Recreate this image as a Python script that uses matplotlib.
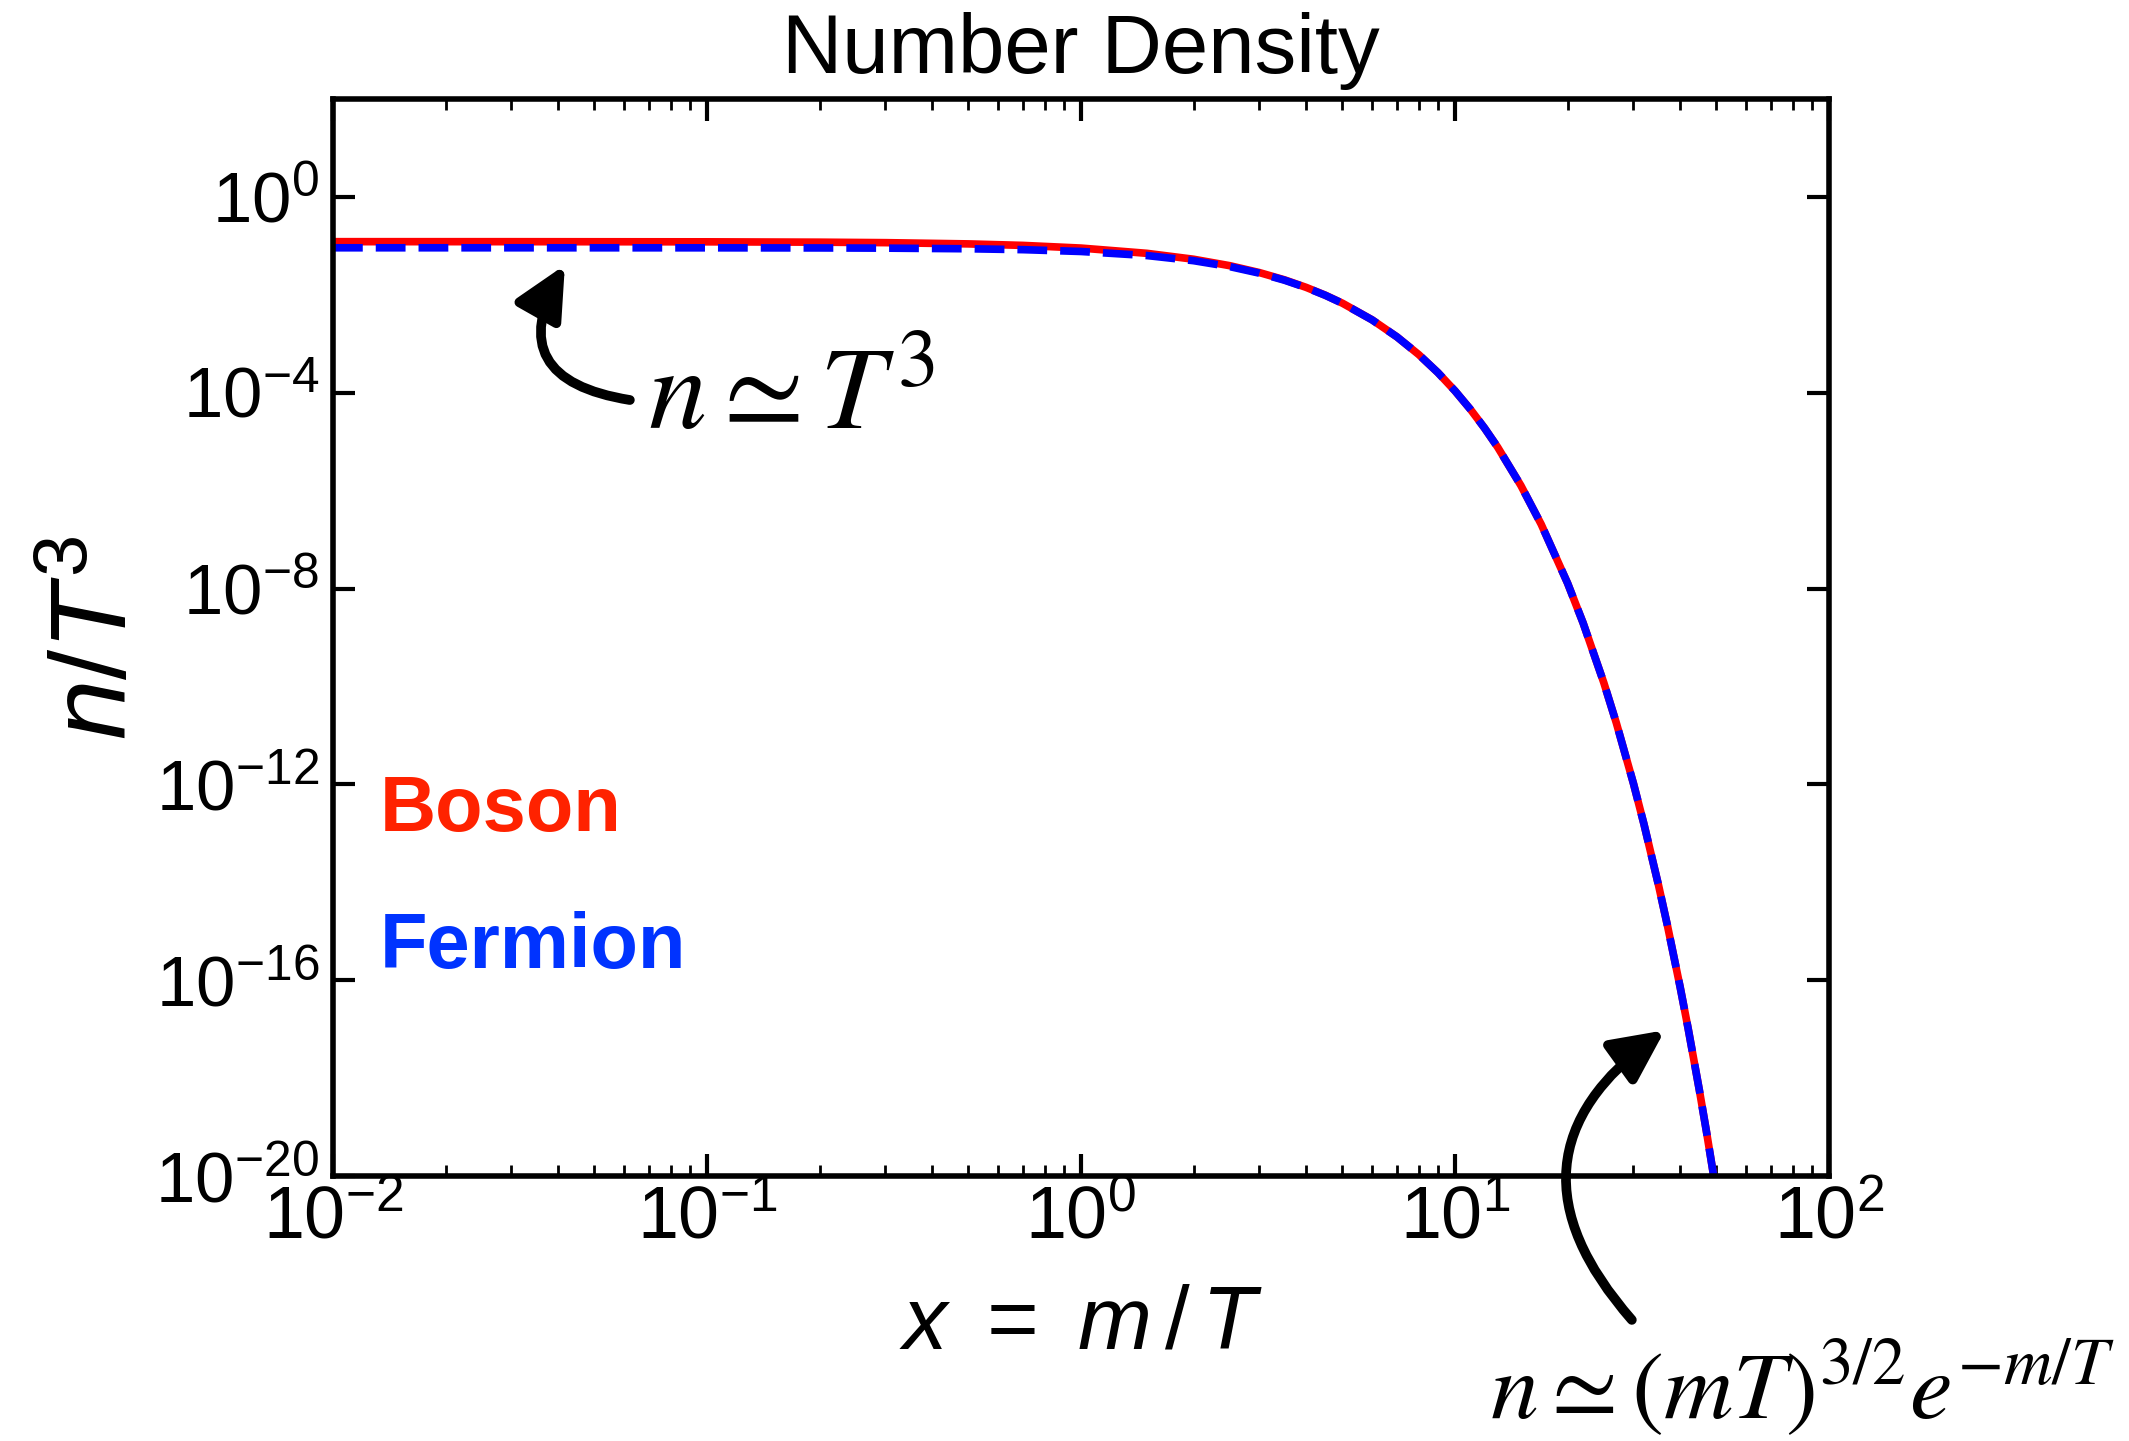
import numpy as np
import matplotlib
matplotlib.use('Agg')
import matplotlib.pyplot as plt
from matplotlib.ticker import FixedLocator, LogLocator, NullLocator, LogFormatterSciNotation

plt.rcParams['font.family'] = ['Liberation Sans', 'DejaVu Sans']
plt.rcParams['mathtext.fontset'] = 'custom'
plt.rcParams['mathtext.rm'] = 'Liberation Sans'
plt.rcParams['mathtext.it'] = 'Liberation Sans:italic'
plt.rcParams['mathtext.bf'] = 'Liberation Sans:bold'

# x = m/T and n/T^3
x_vals = [0.01, 0.03, 0.1, 0.2, 0.3, 0.5, 0.7, 1.0, 1.5, 2.0,
          2.5, 3.0, 3.5, 4.0, 4.5, 5.0, 6.0, 7.0, 8.0, 9.0,
          10.0, 11.0, 12.0, 13.0, 15.0, 17.0, 20.0, 22.0, 25.0, 27.0,
          30.0, 32.0, 35.0, 37.0, 40.0, 42.0, 45.0, 47.0, 50.0]
boson = [0.1218, 0.1217, 0.1209, 0.1189, 0.1163, 0.1097, 0.1022, 0.0901, 0.0704, 0.0533,
         0.03933, 0.02844, 0.02023, 0.01418, 9.83e-3, 6.74e-3, 3.09e-3, 1.377e-3, 6.01e-4, 2.577e-4,
         1.089e-4, 4.553e-5, 1.884e-5, 7.730e-6, 1.273e-6, 2.050e-7, 1.283e-8, 1.987e-9, 1.186e-10, 1.793e-11,
         1.038e-12, 1.542e-13, 8.74e-15, 1.282e-15, 7.15e-17, 1.039e-17, 5.72e-19, 8.24e-20, 4.49e-21]
fermion = [0.09134, 0.09133, 0.09117, 0.09065, 0.08979, 0.08721, 0.0836, 0.07674, 0.0634, 0.04978,
           0.03765, 0.02767, 0.01988, 0.01403, 9.76e-3, 6.71e-3, 3.08e-3, 1.376e-3, 6.01e-4, 2.577e-4,
           1.089e-4, 4.553e-5, 1.884e-5, 7.730e-6, 1.273e-6, 2.050e-7, 1.283e-8, 1.987e-9, 1.186e-10, 1.793e-11,
           1.038e-12, 1.542e-13, 8.74e-15, 1.282e-15, 7.15e-17, 1.039e-17, 5.72e-19, 8.24e-20, 4.49e-21]

fig = plt.figure(figsize=(21.29, 14.41), dpi=100)
ax = fig.add_axes([0.1564, 0.1839, 0.7027, 0.7474])

ax.plot(x_vals, boson, color='#ff0000', lw=5.5)
ax.plot(x_vals, fermion, color='#0000ff', lw=5.5, dashes=(3.9, 1.7))

ax.set_xscale('log')
ax.set_yscale('log')
ax.set_xlim(1e-2, 1e2)
ax.set_ylim(1e-20, 1e2)

ax.yaxis.set_major_locator(FixedLocator(10.0 ** np.arange(-20, 1, 4)))
ax.yaxis.set_minor_locator(NullLocator())
ax.yaxis.set_major_formatter(LogFormatterSciNotation())
ax.xaxis.set_major_locator(LogLocator(base=10, numticks=10))
ax.xaxis.set_minor_locator(LogLocator(base=10, subs=np.arange(2, 10), numticks=20))

ax.tick_params(which='both', direction='in', top=True, right=True)
ax.tick_params(which='major', length=16, width=3)
ax.tick_params(which='minor', length=8, width=2)
ax.tick_params(axis='y', labelsize=51, pad=10)
ax.tick_params(axis='x', labelsize=53, pad=6,
               labelfontfamily=['Liberation Sans Narrow', 'Liberation Sans'])
for s in ax.spines.values():
    s.set_linewidth(4)

ax.set_title('Number Density', fontsize=60, pad=19)
ax.set_xlabel(r'$x\ =\ m\,/\,T$', fontsize=64, labelpad=22)
ax.set_ylabel(r'$n/T^3$', fontsize=78, labelpad=4)

ax.text(0.0314, 0.320, 'Boson', transform=ax.transAxes, fontsize=56,
        fontweight='bold', color='#ff2200', va='baseline')
ax.text(0.0314, 0.193, 'Fermion', transform=ax.transAxes, fontsize=56,
        fontweight='bold', color='#0033ff', va='baseline')

# annotations
ax.text(0.0695, 1.8e-5, r'$n\simeq T^3$', fontsize=84,
        math_fontfamily='stix', va='baseline')
fig.text(0.700, 0.0153, r'$n\simeq(mT)^{3/2}e^{-m/T}$', fontsize=69,
         math_fontfamily='stix', va='baseline')

arr = dict(arrowstyle='-|>,head_length=0.35,head_width=0.17', lw=7,
           color='k', shrinkA=0, shrinkB=0, mutation_scale=90)
ax.annotate('', xy=(0.0417, 0.0406), xytext=(0.0622, 7.1e-5),
            arrowprops=dict(arr, connectionstyle='arc3,rad=-0.72'),
            annotation_clip=False)
ax.annotate('', xy=(36.4, 9.5e-18), xytext=(29.7, 1.15e-23),
            arrowprops=dict(arr, connectionstyle='arc3,rad=-0.55'),
            annotation_clip=False)

fig.savefig('out.png', dpi=100)
